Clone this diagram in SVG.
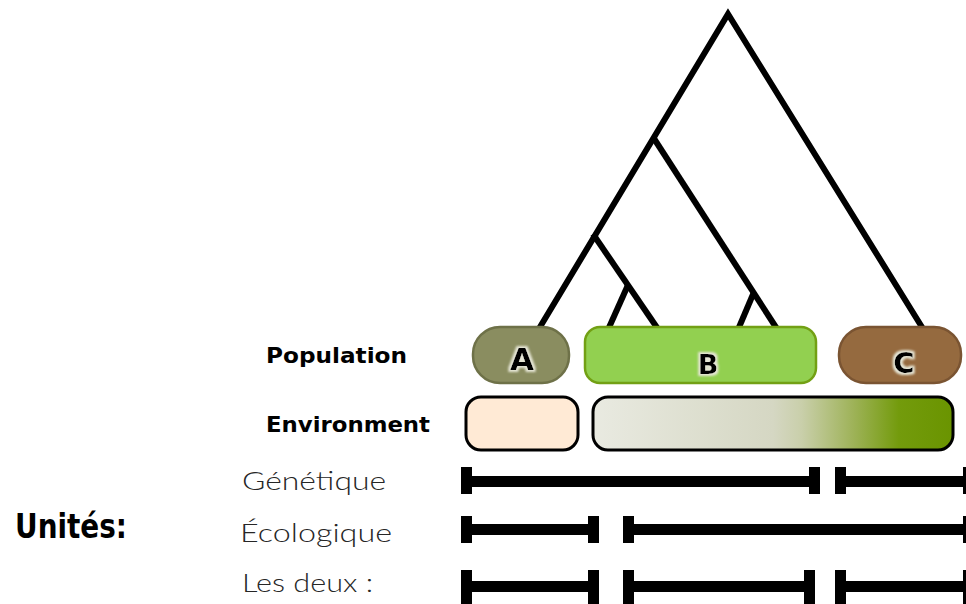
<svg xmlns="http://www.w3.org/2000/svg" width="966" height="604" viewBox="0 0 966 604">
<style>
.tree{fill:none;stroke:#000;stroke-width:6;stroke-linejoin:miter;stroke-linecap:butt}
.lbl{font-family:"DejaVu Sans","Liberation Sans",sans-serif;font-weight:bold;fill:#000}
.unit{font-family:Lato,"Liberation Sans",sans-serif;font-weight:300;font-size:25px;fill:#262626}
.pop{font-family:"DejaVu Sans","Liberation Sans",sans-serif;font-weight:bold;fill:#000;text-anchor:middle}
.env{stroke:#000;stroke-width:3}
</style>
<defs>
<linearGradient id="envgrad" x1="0" y1="0" x2="1" y2="0">
<stop offset="0" stop-color="#e9eae1"/>
<stop offset="0.5" stop-color="#d5d7c3"/>
<stop offset="0.58" stop-color="#c9cfaa"/>
<stop offset="0.72" stop-color="#9fb35a"/>
<stop offset="0.85" stop-color="#739b0c"/>
<stop offset="1" stop-color="#6a9400"/>
</linearGradient>
<filter id="glow" x="-40%" y="-40%" width="180%" height="180%">
<feMorphology in="SourceAlpha" operator="dilate" radius="2" result="d"/>
<feGaussianBlur in="d" stdDeviation="1.2" result="b"/>
<feFlood flood-color="#e6e6d6"/>
<feComposite in2="b" operator="in" result="g"/>
<feMerge><feMergeNode in="g"/><feMergeNode in="SourceGraphic"/></feMerge>
</filter>
</defs>
<rect width="966" height="604" fill="#fff"/>

<g id="connectors" class="tree">
<polyline points="537,332 728,14 925,332"/>
<line x1="653" y1="137" x2="779" y2="332"/>
<line x1="593" y1="234" x2="660" y2="332"/>
<line x1="628" y1="285" x2="607" y2="332"/>
<line x1="754" y1="292" x2="737" y2="332"/>
</g>

<g id="pop-A">
<rect x="473" y="327" width="96" height="56" rx="27" fill="#8a8d60" stroke="#6e7148" stroke-width="2.5"/>
<text class="pop" x="522" y="370" font-size="31" filter="url(#glow)">A</text>
</g>
<g id="pop-B">
<rect x="585" y="327" width="231" height="56" rx="15" fill="#92d050" stroke="#72a014" stroke-width="2.5"/>
<text class="pop" x="708" y="374" font-size="27" filter="url(#glow)">B</text>
</g>
<g id="pop-C">
<rect x="839" y="327" width="122" height="56" rx="27" fill="#956a3f" stroke="#7a5432" stroke-width="2.5"/>
<text class="pop" x="904" y="373" font-size="29" filter="url(#glow)">C</text>
</g>

<g id="env-A">
<rect class="env" x="466" y="397" width="112" height="53" rx="15" fill="#ffead5"/>
</g>
<g id="env-BC">
<rect class="env" x="593" y="397" width="360" height="53" rx="15" fill="url(#envgrad)"/>
</g>

<g id="labels">
<text class="lbl" x="266" y="363" font-size="21" textLength="141" lengthAdjust="spacingAndGlyphs">Population</text>
<text class="lbl" x="266" y="432" font-size="21" textLength="164" lengthAdjust="spacingAndGlyphs">Environment</text>
<text class="lbl" x="15" y="538" font-size="34" textLength="112" lengthAdjust="spacingAndGlyphs">Unités:</text>
<text class="unit" x="242" y="490" textLength="144" lengthAdjust="spacingAndGlyphs">Génétique</text>
<text class="unit" x="240" y="542" textLength="152" lengthAdjust="spacingAndGlyphs">Écologique</text>
<text class="unit" x="242" y="592" textLength="131" lengthAdjust="spacingAndGlyphs">Les deux :</text>
</g>

<g id="bars" fill="#000">
<rect x="461" y="476" width="359" height="11"/>
<rect x="461" y="467" width="11" height="27"/>
<rect x="809" y="467" width="11" height="27"/>
<rect x="835" y="476" width="140" height="11"/>
<rect x="835" y="467" width="11" height="27"/>
<rect x="963" y="467" width="11" height="27"/>
<rect x="461" y="524" width="138" height="11"/>
<rect x="461" y="516" width="11" height="27"/>
<rect x="588" y="516" width="11" height="27"/>
<rect x="623" y="524" width="350" height="11"/>
<rect x="623" y="516" width="11" height="27"/>
<rect x="963" y="516" width="11" height="27"/>
<rect x="461" y="581" width="138" height="11"/>
<rect x="461" y="570" width="11" height="34"/>
<rect x="588" y="570" width="11" height="34"/>
<rect x="623" y="581" width="192" height="11"/>
<rect x="623" y="570" width="11" height="34"/>
<rect x="804" y="570" width="11" height="34"/>
<rect x="835" y="581" width="140" height="11"/>
<rect x="835" y="570" width="11" height="34"/>
<rect x="963" y="570" width="11" height="34"/>
</g>
</svg>
